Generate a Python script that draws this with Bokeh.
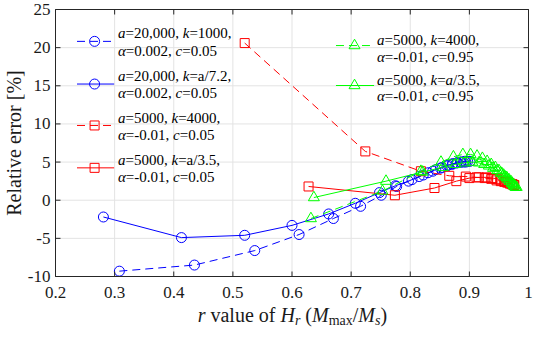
import math
from bokeh.plotting import figure
from bokeh.models import Range1d, Label
from bokeh.embed import file_html
from bokeh.resources import INLINE

# ---------------- data ----------------
x_blue_dash = [0.308, 0.435, 0.537, 0.612, 0.670, 0.716, 0.751, 0.777, 0.803, 0.822,
               0.838, 0.851, 0.862, 0.871, 0.879, 0.886, 0.892, 0.897, 0.901]
y_blue_dash = [-9.3, -8.5, -6.6, -4.5, -2.4, -0.8, 0.65, 1.8, 2.7, 3.3,
               3.8, 4.2, 4.5, 4.7, 4.9, 5.0, 5.1, 5.1, 5.1]

x_blue_solid = [0.281, 0.413, 0.520, 0.600, 0.662, 0.707, 0.748, 0.775, 0.797, 0.815,
                0.830, 0.843, 0.854, 0.864, 0.872, 0.879, 0.885, 0.890, 0.894]
y_blue_solid = [-2.2, -4.9, -4.6, -3.3, -1.8, -0.4, 1.0, 1.9, 2.5, 3.1,
                3.6, 4.0, 4.3, 4.6, 4.8, 4.9, 5.0, 5.0, 5.0]

x_red_dash = [0.520, 0.724, 0.818, 0.866, 0.894, 0.912, 0.926, 0.937, 0.946, 0.953,
              0.959, 0.964, 0.968, 0.972, 0.975]
y_red_dash = [20.6, 6.4, 3.8, 3.2, 3.1, 3.0, 2.9, 2.8, 2.6, 2.5,
              2.4, 2.3, 2.2, 2.1, 2.0]

x_red_solid = [0.628, 0.774, 0.841, 0.878, 0.900, 0.916, 0.929, 0.939, 0.947, 0.954,
               0.960, 0.965, 0.969, 0.973, 0.976]
y_red_solid = [1.8, 0.65, 1.6, 2.5, 2.9, 3.0, 3.0, 2.9, 2.8, 2.6,
               2.5, 2.4, 2.2, 2.1, 2.0]

x_green_dash = [0.632, 0.753, 0.818, 0.852, 0.873, 0.889, 0.902, 0.913, 0.922, 0.930,
                0.937, 0.944, 0.950, 0.955, 0.960, 0.964, 0.968, 0.972, 0.975, 0.978]
y_green_dash = [-2.4, 1.2, 3.8, 5.0, 5.7, 6.0, 6.0, 5.8, 5.5, 5.1,
                4.7, 4.3, 3.9, 3.5, 3.1, 2.8, 2.5, 2.2, 1.9, 1.7]

x_green_solid = [0.637, 0.759, 0.821, 0.855, 0.876, 0.892, 0.905, 0.916, 0.925, 0.933,
                 0.940, 0.947, 0.953, 0.958, 0.963, 0.967, 0.971, 0.974, 0.977, 0.980]
y_green_solid = [0.35, 2.5, 3.7, 4.3, 4.7, 4.9, 5.0, 4.9, 4.7, 4.5,
                 4.2, 3.9, 3.6, 3.3, 3.0, 2.7, 2.4, 2.1, 1.9, 1.7]

x_ticks = [0.2, 0.3, 0.4, 0.5, 0.6, 0.7, 0.8, 0.9, 1.0]
x_tick_labels = ["0.2", "0.3", "0.4", "0.5", "0.6", "0.7", "0.8", "0.9", "1"]
y_ticks = [-10, -5, 0, 5, 10, 15, 20, 25]
y_tick_labels = ["-10", "-5", "0", "5", "10", "15", "20", "25"]

# ---------------- styles / layout ----------------
FONT = "Liberation Serif"
AX = "#262626"
TXT = "#1a1a1a"
GRID = "#e3e3e3"
BLUE, RED, GREEN = "#0000ff", "#ff0000", "#00ff00"
DASH = "8 5"

CW, CH = 534, 327                   # canvas
FL, FR, FT, FB = 55, 528, 9, 276    # plot box in canvas pixels
TICK = 5

series = [
    (x_blue_dash, y_blue_dash, BLUE, DASH, "circle", 10),
    (x_blue_solid, y_blue_solid, BLUE, "solid", "circle", 10),
    (x_red_dash, y_red_dash, RED, DASH, "square", 9),
    (x_red_solid, y_red_solid, RED, "solid", "square", 9),
    (x_green_dash, y_green_dash, GREEN, DASH, "triangle", 11),
    (x_green_solid, y_green_solid, GREEN, "solid", "triangle", 11),
]

X0, X1 = x_ticks[0], x_ticks[-1]
Y0, Y1 = y_ticks[0], y_ticks[-1]
SX = (FR - FL) / (X1 - X0)
SY = (FB - FT) / (Y1 - Y0)

p = figure(width=CW, height=CH,
           x_range=Range1d(X0 - FL / SX, X1 + (CW - FR) / SX),
           y_range=Range1d(Y0 - (CH - FB) / SY, Y1 + FT / SY),
           x_axis_type=None, y_axis_type=None,
           output_backend="svg", toolbar_location=None,
           min_border=0, outline_line_color=None,
           background_fill_color="white", border_fill_color="white")
# pixel coordinate system (y downwards) for layout items
p.extra_x_ranges = {"px": Range1d(0, CW)}
p.extra_y_ranges = {"py": Range1d(CH, 0)}


def cx(ref_x):
    """horizontal layout position measured on the reference picture"""
    return FL + (ref_x - 57) * (FR - FL) / 484.0


def cy(ref_y):
    """vertical layout position (inside the box) measured on the reference picture"""
    return FT + (ref_y - 9) * (FB - FT) / 274.0


# grid
nx, ny = len(x_ticks), len(y_ticks)
p.segment(x0=x_ticks, x1=x_ticks, y0=[Y0] * nx, y1=[Y1] * nx, line_color=GRID, line_width=1)
p.segment(x0=[X0] * ny, x1=[X1] * ny, y0=y_ticks, y1=y_ticks, line_color=GRID, line_width=1)

# data
for xs, ys, col, dash, mk, sz in series:
    p.line(xs, ys, line_color=col, line_dash=dash, line_width=1)
    p.scatter(xs, ys, marker=mk, size=sz, line_color=col, fill_color=None, line_width=1)

# box + inward ticks
p.quad(left=[X0], right=[X1], bottom=[Y0], top=[Y1], fill_color=None, line_color=AX, line_width=1)
p.segment(x0=x_ticks, x1=x_ticks, y0=[FB] * nx, y1=[FB - TICK] * nx, y_range_name="py", line_color=AX)
p.segment(x0=x_ticks, x1=x_ticks, y0=[FT] * nx, y1=[FT + TICK] * nx, y_range_name="py", line_color=AX)
p.segment(x0=[FL] * ny, x1=[FL + TICK] * ny, y0=y_ticks, y1=y_ticks, x_range_name="px", line_color=AX)
p.segment(x0=[FR] * ny, x1=[FR - TICK] * ny, y0=y_ticks, y1=y_ticks, x_range_name="px", line_color=AX)

# tick labels
for t, lab in zip(x_ticks, x_tick_labels):
    p.add_layout(Label(x=t, y=FB + 16, y_range_name="py", text=lab, text_align="center",
                       text_baseline="middle", text_font=FONT, text_font_size="17px",
                       text_color=TXT))
for t, lab in zip(y_ticks, y_tick_labels):
    p.add_layout(Label(x=FL - 5, y=t, x_range_name="px", text=lab, text_align="right",
                       text_baseline="middle", text_font=FONT, text_font_size="17px",
                       text_color=TXT))

# ---------------- rich text helper (Times metrics) ----------------
W_REG = {' ': 250, ',': 250, '.': 250, '/': 278, '=': 564, '-': 333, '(': 333, ')': 333,
         'a': 444, 'c': 444, 'e': 444, 'f': 333, 'i': 278, 'l': 278, 'm': 778, 'o': 500,
         'r': 333, 's': 389, 't': 278, 'u': 500, 'v': 500, 'x': 500, 'k': 500,
         'H': 722, 'M': 889}
W_IT = {'a': 500, 'c': 444, 'k': 444, 'r': 389, 's': 389, 'H': 722, 'M': 833, 'α': 520}


def text_w(s, it, size):
    tot = 0
    for ch in s:
        if ch.isdigit():
            tot += 500
        elif it and ch in W_IT:
            tot += W_IT[ch]
        else:
            tot += W_REG.get(ch, 500)
    return tot * size / 1000.0


def put(txt, it, x, y, size, baseline="alphabetic", color="black"):
    p.add_layout(Label(x=x, y=y, text=txt, x_range_name="px", y_range_name="py",
                       text_font=FONT, text_font_style="italic" if it else "normal",
                       text_font_size=f"{size}px", text_baseline=baseline,
                       text_align="left", text_color=color))


def rich(pieces, x0, y, size, baseline="middle", color="black", sub_size=None, sub_dy=0):
    """lay out text pieces side by side; leading/trailing blanks become advances"""
    x = x0
    for piece in pieces:
        txt, it = piece[0], piece[1]
        sub = len(piece) > 2 and piece[2]
        sz = sub_size if sub else size
        lead = len(txt) - len(txt.lstrip())
        x += text_w(" " * lead, 0, sz)
        core = txt.strip()
        put(core, it, x, y + (sub_dy if sub else 0), sz, baseline, color)
        x += text_w(txt.lstrip(), it, sz)


# ---------------- legend ----------------
LEG = 15
legend_texts = [
    ([("a", 1), ("=20,000, ", 0), ("k", 1), ("=1000,", 0)],
     [("α", 1), ("=0.002, ", 0), ("c", 1), ("=0.05", 0)]),
    ([("a", 1), ("=20,000, ", 0), ("k", 1), ("=a/7.2,", 0)],
     [("α", 1), ("=0.002, ", 0), ("c", 1), ("=0.05", 0)]),
    ([("a", 1), ("=5000, ", 0), ("k", 1), ("=4000,", 0)],
     [("α", 1), ("=-0.01, ", 0), ("c", 1), ("=0.05", 0)]),
    ([("a", 1), ("=5000, ", 0), ("k", 1), ("=a/3.5,", 0)],
     [("α", 1), ("=-0.01, ", 0), ("c", 1), ("=0.05", 0)]),
    ([("a", 1), ("=5000, ", 0), ("k", 1), ("=4000,", 0)],
     [("α", 1), ("=-0.01, ", 0), ("c", 1), ("=0.95", 0)]),
    ([("a", 1), ("=5000, ", 0), ("k", 1), ("=", 0), ("a", 1), ("/3.5,", 0)],
     [("α", 1), ("=-0.01, ", 0), ("c", 1), ("=0.95", 0)]),
]
# positions measured on the reference: line x0, line x1, marker x, text x, marker y, text y1, text y2
legend_pos = [
    (79, 117, 97, 121, 41.7, 33.5, 51.5),
    (79, 117, 97, 121, 85.5, 77, 95),
    (79, 117, 97, 121, 128, 120, 138),
    (79, 117, 97, 121, 171.5, 163, 181),
    (344, 383, 363, 386, 46, 40, 58),
    (344, 383, 363, 386, 87, 81, 98),
]
for (xs, ys, col, dash, mk, sz), (l1, l2), (x0, x1, xm, xt, ym, yt1, yt2) in zip(series, legend_texts, legend_pos):
    p.line([cx(x0), cx(x1)], [cy(ym), cy(ym)], line_color=col, line_dash=dash, line_width=1,
           x_range_name="px", y_range_name="py")
    p.scatter([cx(xm)], [cy(ym)], marker=mk, size=sz, line_color=col, fill_color=None,
              line_width=1, x_range_name="px", y_range_name="py")
    rich(l1, cx(xt), cy(yt1), LEG)
    rich(l2, cx(xt), cy(yt2), LEG)

# ---------------- axis titles ----------------
x_title = [("r", 1), (" value of ", 0), ("H", 1), ("r", 1, True), (" (", 0), ("M", 1),
           ("max", 0, True), ("/", 0), ("M", 1), ("s", 1, True), (")", 0)]
rich(x_title, cx(202.5), FB + 38, 20, baseline="alphabetic", color=TXT, sub_size=14, sub_dy=6)

p.add_layout(Label(x=13, y=cy(146), text="Relative error [%]", x_range_name="px", y_range_name="py",
                   angle=math.pi / 2, text_align="center", text_baseline="middle",
                   text_font=FONT, text_font_size="20px", text_color=TXT))

open("out.html", "w").write(file_html(p, INLINE))
